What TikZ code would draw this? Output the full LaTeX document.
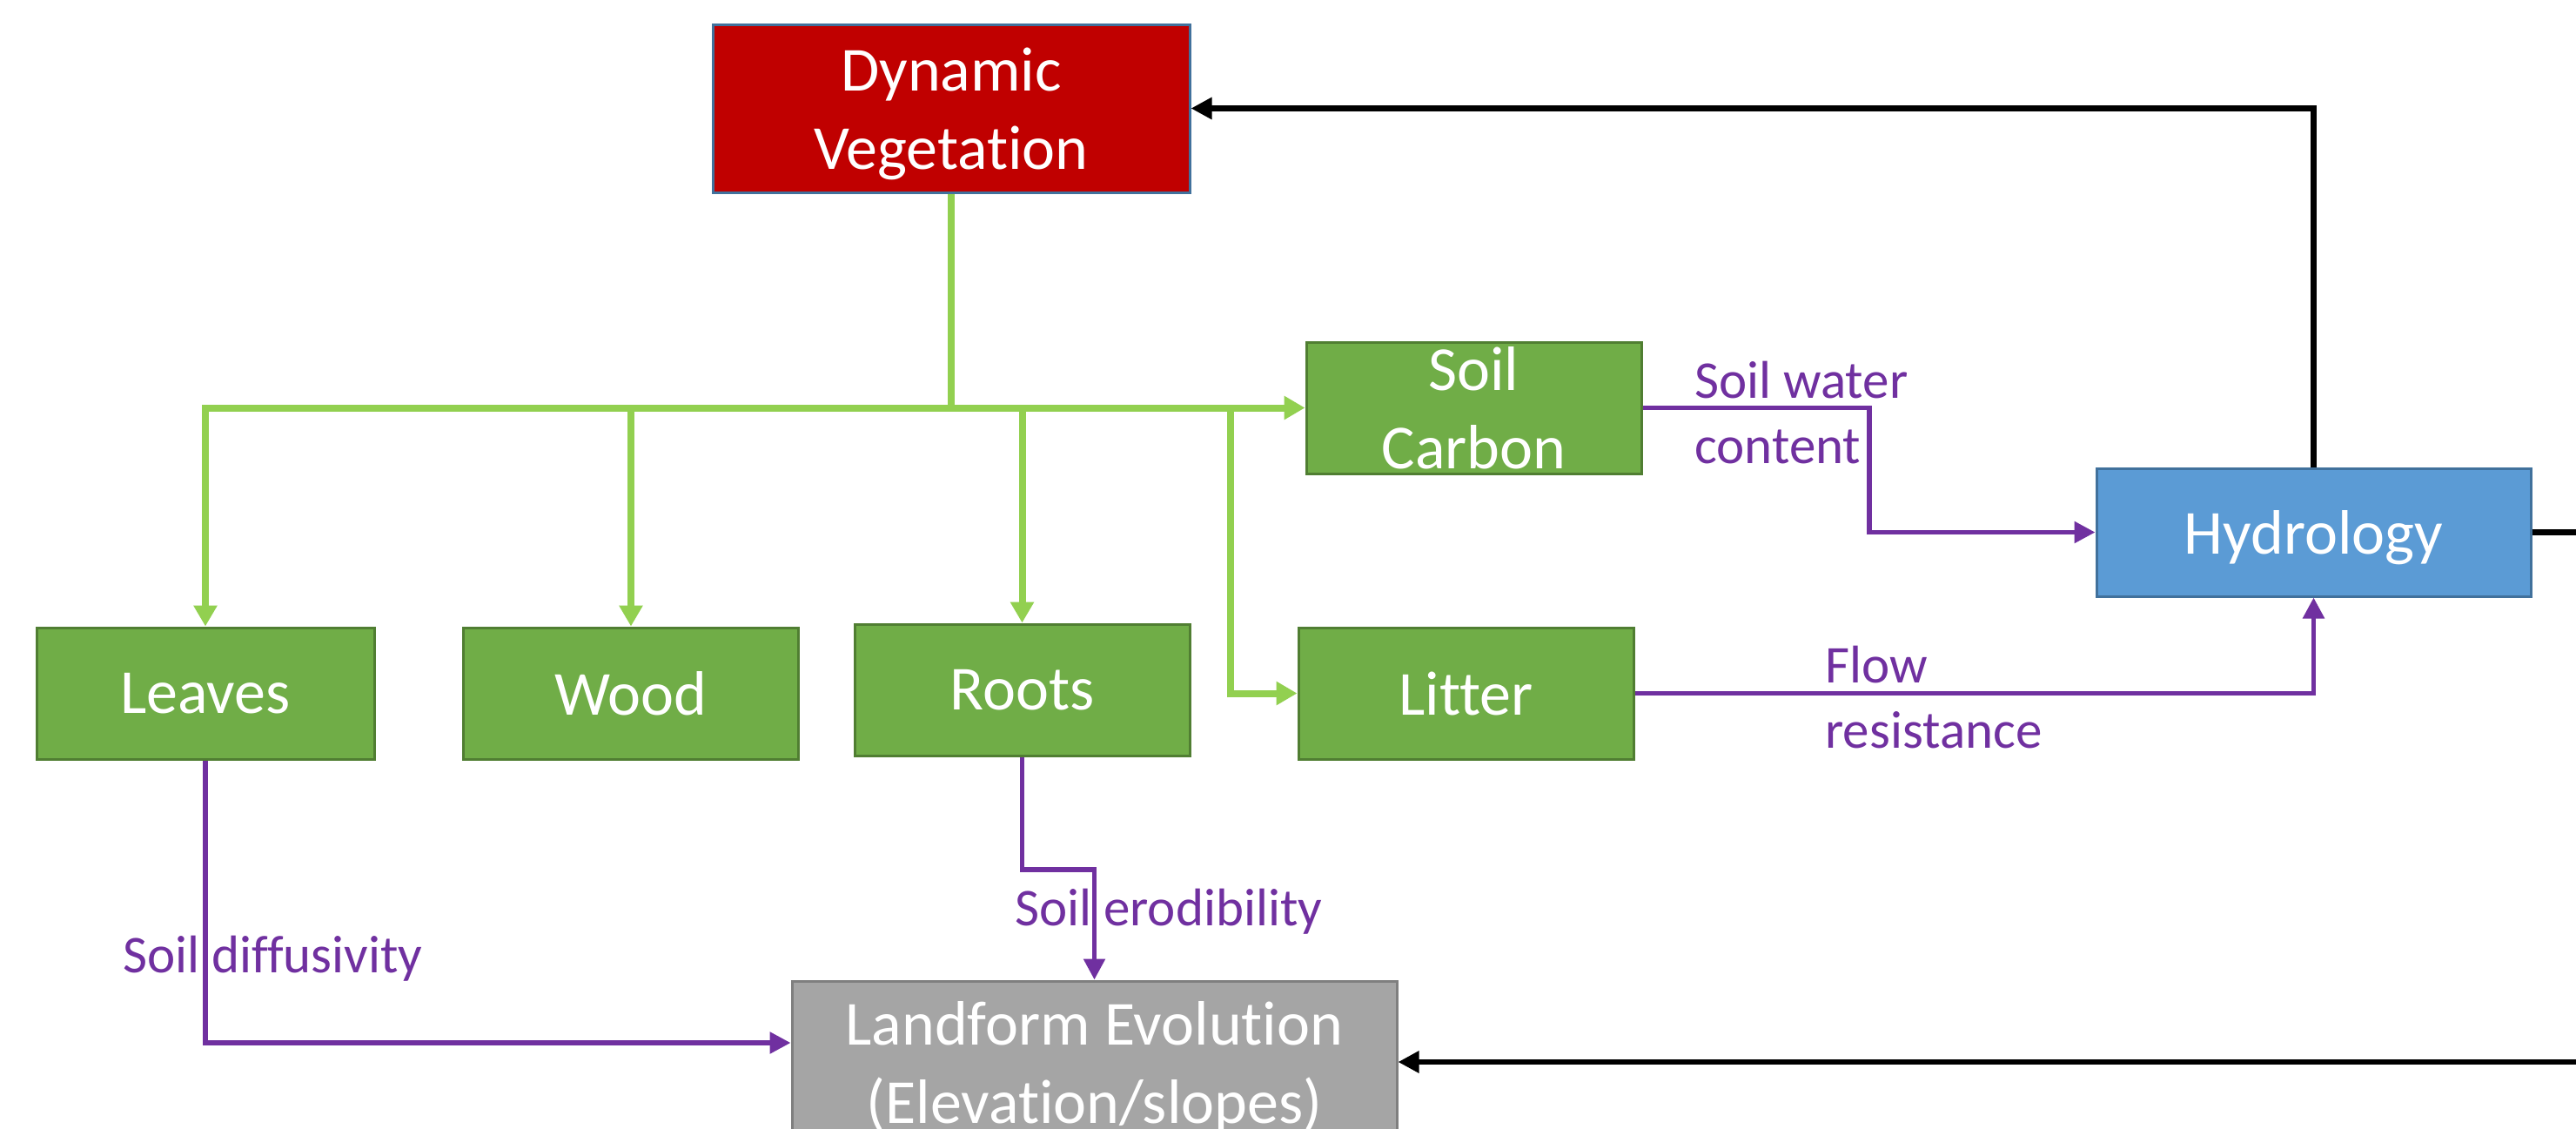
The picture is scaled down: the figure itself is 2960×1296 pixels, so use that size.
\documentclass[tikz,border=0pt]{standalone}
\usepackage{fontspec}
\setmainfont{Carlito}[Ligatures={NoCommon,NoRare}]
\usetikzlibrary{arrows.meta,calc}
\definecolor{dvred}{HTML}{C00000}
\definecolor{blueline}{HTML}{41719C}
\definecolor{gboxfill}{HTML}{70AD47}
\definecolor{gboxline}{HTML}{507E32}
\definecolor{hydfill}{HTML}{5B9BD5}
\definecolor{landfill}{HTML}{A5A5A5}
\definecolor{landline}{HTML}{7F7F7F}
\definecolor{gconn}{HTML}{92D050}
\definecolor{purp}{HTML}{7030A0}
\begin{document}
\begin{tikzpicture}[x=0.5pt,y=-0.5pt,
  box/.style={draw, line width=1.5pt, inner sep=0pt, text=white, align=center,
    font=\fontsize{36}{45}\selectfont, text depth=0pt},
  greenbox/.style={box, fill=gboxfill, draw=gboxline, minimum width=192.5pt, minimum height=75.5pt},
  gline/.style={draw=gconn, line width=4pt},
  gtip/.tip={Triangle[length=12pt,width=13pt]},
  garrow/.style={gline, -gtip},
  ptip/.tip={Triangle[length=12pt,width=12pt]},
  parrow/.style={draw=purp, line width=2.75pt, -ptip},
  barrow/.style={draw=black, line width=3.25pt, -ptip},
  lab/.style={text=purp, font=\fontsize{30.5}{37.5}\selectfont, inner sep=0pt, align=left, text depth=0pt}]

\fill[white] (0,0) rectangle (2960,1296);
\clip (0,0) rectangle (2960,1296);

% boxes
\node[box, fill=dvred, draw=blueline, minimum width=274pt, minimum height=96.5pt] (dv) at (1093,124.5) {Dynamic\\Vegetation};
\node[greenbox] (sc) at (1693.5,468.5) {Soil\\Carbon};
\node[greenbox, minimum width=194pt] (leaves) at (236,796.5) {Leaves};
\node[greenbox] (wood) at (725,796.5) {Wood};
\node[greenbox] (roots) at (1174.5,792.5) {Roots};
\node[greenbox] (litter) at (1684.5,796.5) {Litter};
\node[box, fill=hydfill, draw=blueline, minimum width=249.5pt, minimum height=73.5pt] (hyd) at (2658.5,611.5) {Hydrology};
\node[box, fill=landfill, draw=landline, minimum width=347.5pt, minimum height=93pt] (land) at (1257.5,1220) {Landform Evolution\\(Elevation/slopes)};

% green connectors
\draw[gline] (dv.south) -- (dv.south |- sc.west);
\draw[gline, gtip-gtip] (leaves.north) |- (sc.west);
\draw[garrow] (wood.north |- sc.west) -- (wood.north);
\draw[garrow] (roots.north |- sc.west) -- (roots.north);
\coordinate (lb) at (1414,468.5);
\draw[garrow] (lb) |- (litter.west);

% purple connectors
\coordinate (swc) at (2148,0);
\draw[parrow] (sc.east) -- (sc.east -| swc) |- (hyd.west);
\draw[parrow] (litter.east) -| (hyd.south);
\draw[parrow] (leaves.south) |- ($(land.west)+(0,-22)$);
\coordinate (rk) at (0,999);
\draw[parrow] (roots.south) -- (roots.south |- rk) -| (land.north);

% black connectors
\coordinate (redge) at (2975,0);
\draw[barrow] (hyd.north) |- (dv.east);
\draw[draw=black, line width=3.25pt] (hyd.east) -- (hyd.east -| redge);
\draw[barrow] (land.east -| redge) -- (land.east);

% labels
\node[lab, anchor=west] (lswc) at (1947,474) {Soil water\\content};
\node[lab, anchor=west] (lfr) at (2097,801) {Flow\\resistance};
\node[lab, anchor=base west] (lsd) at (141,1117) {Soil diffusivity};
\node[lab, anchor=base west] (lse) at (1166,1063) {Soil erodibility};
\end{tikzpicture}
\end{document}
